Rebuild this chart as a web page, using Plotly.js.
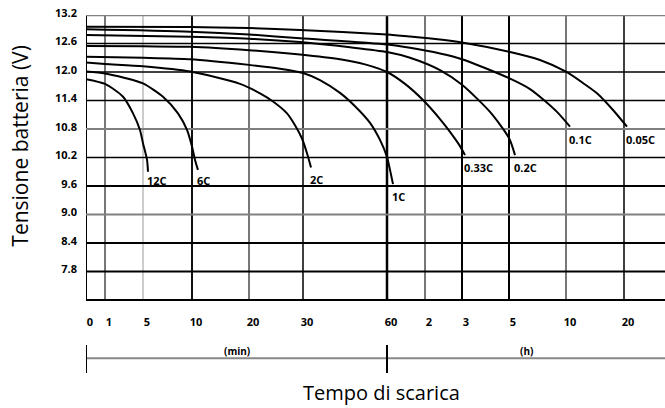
<!DOCTYPE html>
<html>
<head>
<meta charset="utf-8">
<script src="https://cdn.plot.ly/plotly-3.0.1.min.js"></script>
<style>html,body{margin:0;padding:0;background:#fff;}#chart{width:665px;height:408px;}</style>
</head>
<body>
<div id="chart"></div>
<script>
// ---- Tick data (time in minutes) ----
const tickMinutes = [0, 1, 5, 10, 20, 30, 60, 120, 180, 300, 600, 1200];
const tickLabels  = ['0', '1', '5', '10', '20', '30', '60', '2', '3', '5', '10', '20'];
const yTicks      = [13.2, 12.6, 12.0, 11.4, 10.8, 10.2, 9.6, 9.0, 8.4, 7.8];
const yTickLabels = ['13.2', '12.6', '12.0', '11.4', '10.8', '10.2', '9.6', '9.0', '8.4', '7.8'];

// ---- Series (time in minutes, voltage in V) ----
const seriesNames = ['12C', '6C', '2C', '1C', '0.33C', '0.2C', '0.1C', '0.05C'];
const t_12C = [0, 1, 2.9, 3.95, 4.68, 5, 5.41, 5.51];
const v_12C = [11.85, 11.75, 11.48, 11.13, 10.78, 10.50, 10.15, 9.90];
const t_6C = [0, 1, 3, 5, 7.04, 8.57, 9.49, 10, 10.53, 11.05];
const v_6C = [12.01, 11.97, 11.88, 11.76, 11.48, 11.13, 10.78, 10.43, 10.15, 9.94];
const t_2C = [0, 1, 5, 9.8, 18.42, 22.04, 24.44, 27.04, 28.52, 29.81, 31.43, 32.86];
const v_2C = [12.20, 12.17, 12.12, 12.01, 11.75, 11.55, 11.38, 11.13, 10.88, 10.60, 10.29, 9.99];
const t_1C = [0, 5, 9.8, 20, 25.74, 30, 36.07, 43.21, 48.57, 53.93, 57.5, 60, 64.74, 69.47];
const v_1C = [12.32, 12.30, 12.27, 12.15, 12.07, 11.98, 11.83, 11.56, 11.28, 10.93, 10.57, 10.21, 9.94, 9.64];
const t_033C = [0, 5, 9.8, 20, 29.44, 43.21, 52.14, 60, 88.42, 116.84, 144.32, 160.54, 176.76, 187.66];
const v_033C = [12.55, 12.54, 12.53, 12.46, 12.37, 12.27, 12.16, 12.00, 11.75, 11.41, 11.01, 10.74, 10.44, 10.25];
const t_02C = [0, 9.8, 20, 29.44, 46.79, 60, 96.32, 144.32, 180, 251.49, 300, 331.6];
const v_02C = [12.78, 12.74, 12.70, 12.63, 12.52, 12.42, 12.30, 12.04, 11.73, 11.16, 10.61, 10.25];
const t_01C = [0, 9.8, 20, 29.44, 60, 96.32, 144.32, 180, 300, 410.5, 489.5, 552.6, 641.4];
const v_01C = [12.90, 12.85, 12.79, 12.71, 12.58, 12.51, 12.39, 12.27, 11.87, 11.64, 11.39, 11.16, 10.85];
const t_005C = [0, 9.8, 20, 29.44, 60, 96.32, 144.32, 180, 300, 463.2, 600, 775.9, 920.7, 1086.2, 1231];
const v_005C = [12.954, 12.947, 12.926, 12.884, 12.789, 12.747, 12.684, 12.621, 12.427, 12.253, 12.006, 11.768, 11.552, 11.20, 10.848];

const seriesT = [t_12C, t_6C, t_2C, t_1C, t_033C, t_02C, t_01C, t_005C];
const seriesV = [v_12C, v_6C, v_2C, v_1C, v_033C, v_02C, v_01C, v_005C];

// ---- Layout of the non-uniform time axis (axis units per tick) ----
const AXIS_POS = [0, 19, 57, 106, 163, 217, 301, 339, 376, 423, 480, 538];
const AXIS_END = 579;

function toPos(t) {
  const n = tickMinutes.length;
  for (let i = 0; i < n - 1; i++) {
    if (t <= tickMinutes[i + 1]) {
      const f = (t - tickMinutes[i]) / (tickMinutes[i + 1] - tickMinutes[i]);
      return AXIS_POS[i] + f * (AXIS_POS[i + 1] - AXIS_POS[i]);
    }
  }
  const slope = (AXIS_POS[n - 1] - AXIS_POS[n - 2]) / (tickMinutes[n - 1] - tickMinutes[n - 2]);
  return AXIS_POS[n - 1] + (t - tickMinutes[n - 1]) * slope;
}

// grid styles
const vStyle = [
  ['#000', 2], ['#777', 2], ['#999', 1], ['#111', 2], ['#777', 2], ['#000', 1.5],
  ['#000', 2.5], ['#777', 2], ['#000', 2], ['#000', 2], ['#777', 2], ['#000', 1.5]
];
const hStyle = [
  ['#808080', 2.5], ['#000', 1.5], ['#000', 1.5], ['#000', 1.5], ['#808080', 2], ['#000', 1.5],
  ['#000', 2], ['#808080', 2], ['#000', 2], ['#000', 2]
];
// label offsets (px) for curve labels
const labelShiftY = [1, -1, -3, -3, -3, -3, -3, -3];

const shapes = [];
AXIS_POS.forEach((p, i) => {
  shapes.push({type: 'line', xref: 'x', yref: 'paper', x0: p, x1: p, y0: 0, y1: 1,
    line: {color: vStyle[i][0], width: vStyle[i][1]}, layer: 'below'});
});
yTicks.forEach((v, i) => {
  shapes.push({type: 'line', xref: 'paper', yref: 'y', x0: 0, x1: 1, y0: v, y1: v,
    line: {color: hStyle[i][0], width: hStyle[i][1]}, layer: 'below'});
});
shapes.push({type: 'line', xref: 'paper', yref: 'paper', x0: 0, x1: 1, y0: 0, y1: 0,
  line: {color: '#000', width: 2}});
shapes.push({type: 'line', xref: 'paper', yref: 'paper', x0: 0, x1: 1, y0: -0.204, y1: -0.204,
  line: {color: '#888', width: 2}});
shapes.push({type: 'line', xref: 'x', yref: 'paper', x0: toPos(0), x1: toPos(0), y0: -0.158, y1: -0.256,
  line: {color: '#000', width: 2}});
shapes.push({type: 'line', xref: 'x', yref: 'paper', x0: toPos(60), x1: toPos(60), y0: -0.158, y1: -0.256,
  line: {color: '#000', width: 2}});

const traces = seriesNames.map((name, k) => ({
  type: 'scatter', mode: 'lines', name: name,
  x: seriesT[k].map(toPos), y: seriesV[k],
  line: {color: '#000', width: 2, shape: 'spline', smoothing: 0.7},
  hoverinfo: 'skip', showlegend: false
}));

const labelFont = {family: 'Open Sans, sans-serif', size: 11, color: '#000', weight: 'bold'};
const annotations = seriesNames.map((name, k) => {
  const tt = seriesT[k], vv = seriesV[k];
  return {
    xref: 'x', yref: 'y', x: toPos(tt[tt.length - 1]), y: vv[vv.length - 1],
    text: name, showarrow: false, xanchor: 'left', yanchor: 'top', xshift: -3, yshift: labelShiftY[k],
    font: labelFont
  };
});
annotations.push({xref: 'x', yref: 'paper', x: (toPos(0) + toPos(60)) / 2, y: -0.179,
  text: '(min)', showarrow: false, xanchor: 'center', yanchor: 'middle',
  font: {family: 'Open Sans, sans-serif', size: 10, color: '#000', weight: 'bold'}});
annotations.push({xref: 'x', yref: 'paper', x: (toPos(60) + AXIS_END) / 2, y: -0.179,
  text: '(h)', showarrow: false, xanchor: 'center', yanchor: 'middle',
  font: {family: 'Open Sans, sans-serif', size: 10, color: '#000', weight: 'bold'}});
annotations.push({xref: 'paper', yref: 'paper', x: 0.511, y: -0.323,
  text: 'Tempo di scarica', showarrow: false, xanchor: 'center', yanchor: 'middle',
  font: {family: 'Open Sans, sans-serif', size: 20, color: '#000'}});
annotations.push({xref: 'paper', yref: 'paper', x: -0.113, y: 0.54, textangle: -90,
  text: 'Tensione batteria (V)', showarrow: false, xanchor: 'center', yanchor: 'middle',
  font: {family: 'Open Sans, sans-serif', size: 21, color: '#000'}});

const layout = {
  width: 665, height: 408,
  margin: {l: 86, r: 0, t: 15, b: 108, pad: 0},
  paper_bgcolor: '#fff', plot_bgcolor: '#fff',
  showlegend: false,
  xaxis: {
    range: [0, AXIS_END], tickmode: 'array', tickvals: AXIS_POS, ticktext: tickLabels,
    showgrid: false, zeroline: false, showline: false, ticks: '',
    ticklabelstandoff: 14, ticklabelshift: 4,
    tickfont: {family: 'Open Sans, sans-serif', size: 11, color: '#000', weight: 'bold'},
    fixedrange: true
  },
  yaxis: {
    range: [7.2, 13.2], tickmode: 'array', tickvals: yTicks, ticktext: yTickLabels,
    showgrid: false, zeroline: false, showline: false, ticks: '',
    ticklabelstandoff: 8, ticklabelshift: -2,
    tickfont: {family: 'Open Sans, sans-serif', size: 11, color: '#000', weight: 'bold'},
    fixedrange: true
  },
  shapes: shapes,
  annotations: annotations
};

Plotly.newPlot('chart', traces, layout, {staticPlot: true, displayModeBar: false});
</script>
</body>
</html>
